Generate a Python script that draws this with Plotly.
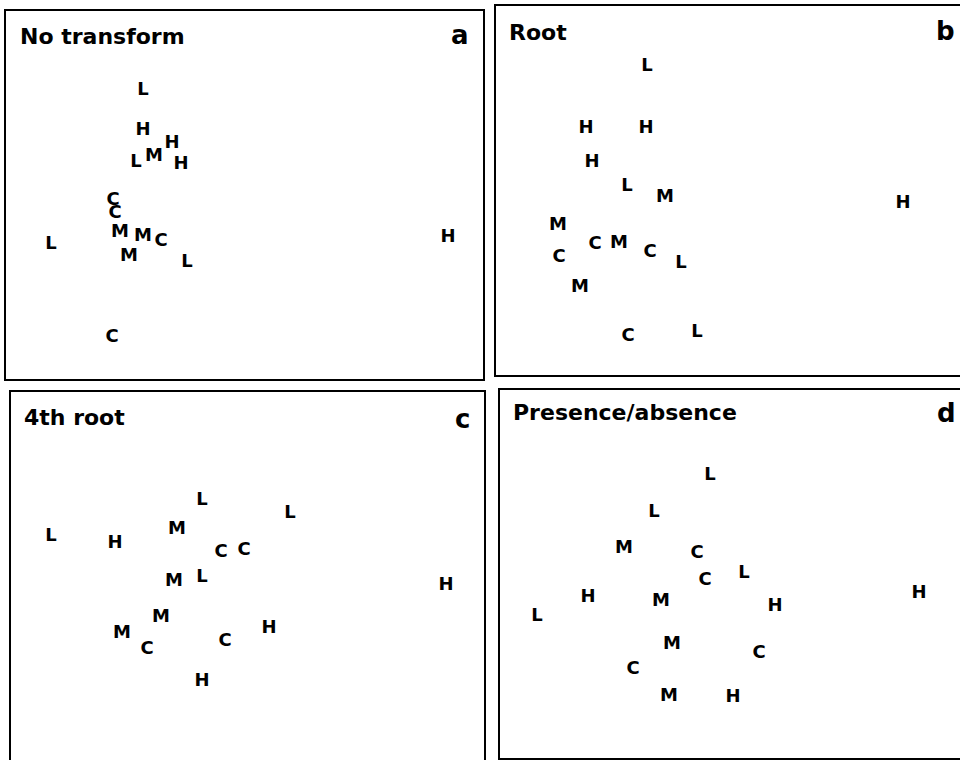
import plotly.graph_objects as go

# ---- data: ordination scores (arbitrary units) ----
a_labels = ["L", "H", "H", "L", "M", "H", "C", "C", "M", "M", "C", "L", "M", "L", "H", "C"]
a_x = [13.7, 13.7, 16.6, 13.0, 14.8, 17.5, 10.7, 10.9, 11.4, 13.7, 15.5, 4.5, 12.3, 18.1, 44.2, 10.6]
a_y = [28.9, 24.9, 23.6, 21.7, 22.3, 21.5, 17.9, 16.6, 14.7, 14.3, 13.8, 13.5, 12.3, 11.7, 14.2, 4.2]

b_labels = ["L", "H", "H", "H", "L", "M", "H", "M", "C", "M", "C", "C", "L", "M", "C", "L"]
b_x = [15.1, 9.0, 15.0, 9.6, 13.1, 16.9, 40.7, 6.2, 9.9, 12.3, 6.3, 15.4, 18.5, 8.4, 13.2, 20.1]
b_y = [30.9, 24.7, 24.7, 21.3, 18.9, 17.8, 17.2, 15.0, 13.1, 13.2, 11.8, 12.3, 11.2, 8.8, 3.9, 4.3]

c_labels = ["L", "L", "M", "L", "H", "C", "C", "M", "L", "H", "M", "H", "M", "C", "C", "H"]
c_x = [19.1, 27.9, 16.6, 4.0, 10.4, 21.0, 23.3, 16.3, 19.1, 43.5, 15.0, 25.8, 11.1, 13.6, 21.4, 19.1]
c_y = [26.0, 24.7, 23.1, 22.4, 21.7, 20.8, 21.0, 17.9, 18.3, 17.5, 14.3, 13.2, 12.7, 11.1, 11.9, 7.9]

d_labels = ["L", "L", "M", "C", "C", "L", "H", "H", "M", "H", "L", "M", "C", "C", "M", "H"]
d_x = [21.0, 15.4, 12.4, 19.7, 20.5, 24.4, 41.9, 8.8, 16.1, 27.5, 3.7, 17.2, 25.9, 13.3, 16.9, 23.3]
d_y = [28.3, 24.6, 21.0, 20.5, 17.8, 18.5, 16.5, 16.1, 15.7, 15.2, 14.2, 11.4, 10.5, 8.9, 6.2, 6.1]

titles = ["No transform", "Root", "4th root", "Presence/absence"]
panel_tags = ["a", "b", "c", "d"]

# figure is a bit larger than the 960x760 window so that the right/bottom
# edges of the outer panels fall outside the visible page, as in the scan
W, H = 1000, 800
FONT = "DejaVu Sans"

# panel boxes in pixels: left, top, right, bottom
boxes = [(6, 11, 483, 379), (496, 6, 975, 375), (11, 392, 484, 780), (500, 390, 975, 758)]
x_ranges = [[0, 47.7], [0, 47.9], [0, 47.3], [0, 47.5]]
y_ranges = [[0, 36.8], [0, 36.9], [-2.0, 36.8], [0, 36.8]]

fig = go.Figure()
data = [(a_labels, a_x, a_y), (b_labels, b_x, b_y), (c_labels, c_x, c_y), (d_labels, d_x, d_y)]
for i, (lab, xs, ys) in enumerate(data):
    sfx = "" if i == 0 else str(i + 1)
    fig.add_trace(go.Scatter(
        x=xs, y=ys, text=lab, mode="text",
        textposition="middle center",
        textfont=dict(family=FONT, size=18, color="black", weight="bold"),
        xaxis="x" + sfx, yaxis="y" + sfx, hoverinfo="skip", showlegend=False,
    ))

layout = dict(
    width=W, height=H, margin=dict(l=0, r=0, t=0, b=0),
    paper_bgcolor="white", plot_bgcolor="white", showlegend=False,
)
for i, (l, t, r, b) in enumerate(boxes):
    sfx = "" if i == 0 else str(i + 1)
    layout["xaxis" + sfx] = dict(
        domain=[l / W, r / W], range=x_ranges[i], anchor="y" + sfx,
        showline=True, linecolor="black", linewidth=2, mirror=True,
        showgrid=False, zeroline=False, showticklabels=False, ticks="", fixedrange=True,
    )
    layout["yaxis" + sfx] = dict(
        domain=[1 - b / H, 1 - t / H], range=y_ranges[i], anchor="x" + sfx,
        showline=True, linecolor="black", linewidth=2, mirror=True,
        showgrid=False, zeroline=False, showticklabels=False, ticks="", fixedrange=True,
    )
fig.update_layout(**layout)

# titles (left x, centre y in pixels) and panel tags (centre x, centre y)
title_pos = [(18, 36), (507, 32), (22, 417), (511, 412)]
tag_pos = [(460, 35), (945, 31), (462, 419), (946, 413)]
for i in range(4):
    tx, ty = title_pos[i]
    fig.add_annotation(
        x=tx / W, y=1 - ty / H, xref="paper", yref="paper", text=titles[i],
        showarrow=False, xanchor="left", yanchor="middle",
        font=dict(family=FONT, size=22, color="black", weight="bold"),
    )
    gx, gy = tag_pos[i]
    fig.add_annotation(
        x=gx / W, y=1 - gy / H, xref="paper", yref="paper", text=panel_tags[i],
        showarrow=False, xanchor="center", yanchor="middle",
        font=dict(family=FONT, size=26, color="black", weight="bold"),
    )

fig.write_html(
    "out.html",
    config={"displayModeBar": False},
    post_script="document.body.style.margin='0';document.body.style.overflow='hidden';",
)
